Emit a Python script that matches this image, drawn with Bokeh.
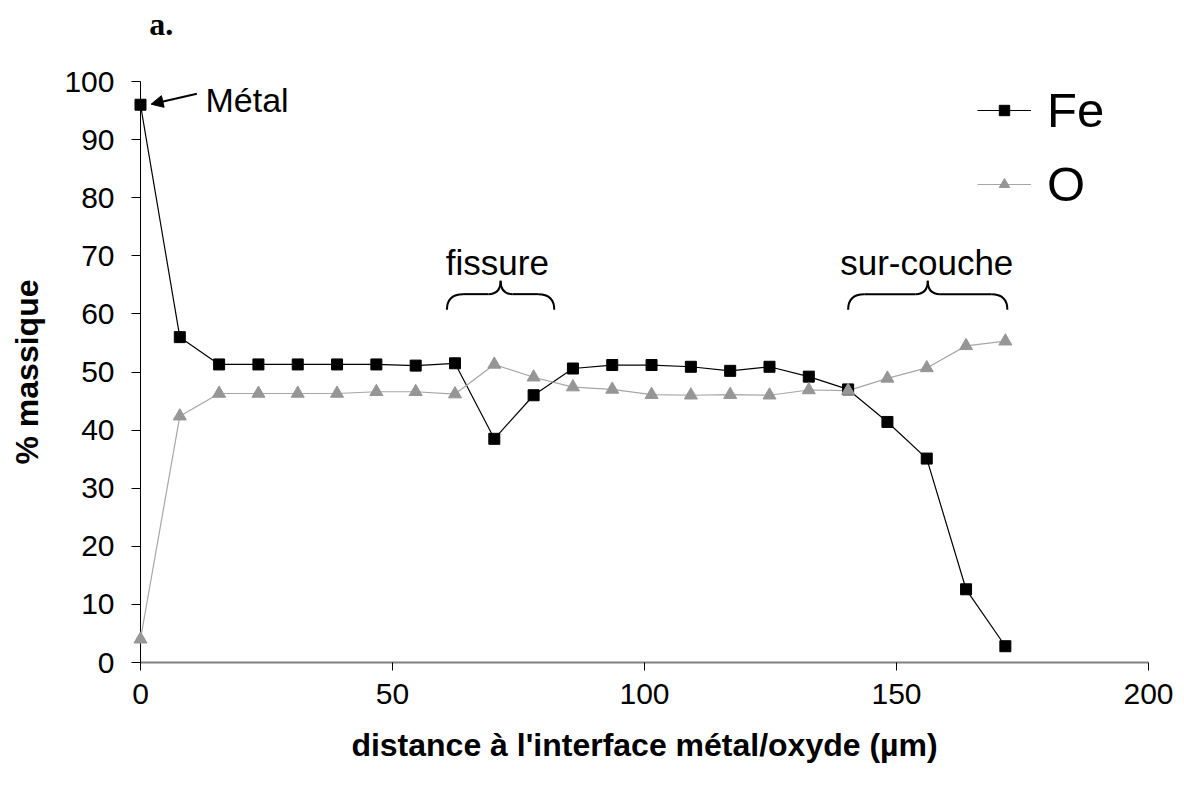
import numpy as np
from bokeh.plotting import figure
from bokeh.models import (Range1d, Legend, LegendItem, Label, Arrow, NormalHead, FixedTicker,
                          LinearAxis)
from bokeh.embed import file_html
from bokeh.resources import INLINE

# ---- data ----
distance = [0.0, 7.8, 15.6, 23.4, 31.2, 39.0, 46.8, 54.6, 62.4, 70.2, 78.0, 85.8,
            93.6, 101.4, 109.2, 117.0, 124.8, 132.6, 140.4, 148.2, 156.0, 163.8, 171.6]
fe = [96.0, 56.0, 51.3, 51.3, 51.3, 51.3, 51.3, 51.1, 51.5, 38.5, 46.0, 50.6,
      51.2, 51.2, 50.9, 50.2, 50.9, 49.2, 47.0, 41.4, 35.1, 12.6, 2.8]
oxygen = [4.0, 42.4, 46.3, 46.3, 46.3, 46.3, 46.6, 46.6, 46.2, 51.3, 49.1, 47.4,
          47.0, 46.1, 46.0, 46.1, 46.0, 46.9, 46.8, 48.9, 50.7, 54.5, 55.3]

x_ticks = [0, 50, 100, 150, 200]
y_ticks = [0, 10, 20, 30, 40, 50, 60, 70, 80, 90, 100]

# annotations: (label, x centre, baseline y), braces: (x left, x right)
zone_labels = ["fissure", "sur-couche"]
zone_label_x = [70.8, 156.0]
zone_label_y = [68.8, 68.8]
brace_left = [60.8, 140.4]
brace_right = [82.1, 172.0]
brace_end_y, brace_mid_y, brace_peak_y = 60.7, 63.4, 65.7

metal_text = "Métal"
metal_arrow = dict(x_start=11.2, y_start=97.9, x_end=2.1, y_end=96.1)

panel_tag = "a."
panel_tag_x = 4.1

FONT = "Liberation Sans"

p = figure(width=1176, height=786, output_backend="svg", toolbar_location=None,
           x_range=Range1d(0, 200), y_range=Range1d(0, 100),
           min_border_left=140, min_border_right=28, min_border_top=81, min_border_bottom=124)

p.outline_line_color = None
p.xgrid.visible = False
p.ygrid.visible = False
p.background_fill_color = "white"

# axes
p.xaxis.ticker = FixedTicker(ticks=x_ticks)
p.yaxis.ticker = FixedTicker(ticks=y_ticks)
for ax in (p.xaxis[0], p.yaxis[0]):
    ax.minor_tick_line_color = None
    ax.major_tick_in = 0
    ax.major_label_text_font = FONT
    ax.major_label_text_font_size = "30px"
    ax.major_label_text_color = "black"
    ax.axis_label_text_font = FONT
    ax.axis_label_text_font_size = "32px"
    ax.axis_label_text_font_style = "bold"
    ax.axis_label_text_color = "black"
    ax.major_tick_line_color = "black"
p.xaxis.axis_line_color = "#808080"
p.xaxis.axis_line_width = 2
p.yaxis.axis_line_color = "black"
p.xaxis.major_tick_out = 8
p.yaxis.major_tick_out = 9
p.xaxis.major_label_standoff = 13
p.yaxis.major_label_standoff = 17
p.xaxis.axis_label = "distance à l'interface métal/oxyde (µm)"
p.yaxis.axis_label = "% massique"
p.xaxis.axis_label_standoff = 20
p.yaxis.axis_label_standoff = 16

# panel tag "a." as the single label of an invisible top axis
tag_axis = LinearAxis(ticker=FixedTicker(ticks=[panel_tag_x]),
                      major_label_overrides={panel_tag_x: panel_tag},
                      axis_line_color=None, major_tick_line_color=None,
                      minor_tick_line_color=None, major_tick_out=0, major_tick_in=0,
                      major_label_standoff=40,
                      major_label_text_font="Liberation Serif",
                      major_label_text_font_style="bold",
                      major_label_text_font_size="32px",
                      major_label_text_color="black")
p.add_layout(tag_axis, "above")

# series
r_fe_line = p.line(distance, fe, line_color="black", line_width=1.2)
r_fe_pts = p.scatter(distance, fe, marker="square", size=11, fill_color="black",
                     line_color="black", level="overlay")
r_o_line = p.line(distance, oxygen, line_color="#a6a6a6", line_width=1.2)
r_o_pts = p.scatter(distance, oxygen, marker="triangle", size=13, fill_color="#969696",
                    line_color="#969696", level="overlay")

legend = Legend(items=[LegendItem(label="Fe", renderers=[r_fe_line, r_fe_pts]),
                       LegendItem(label="O", renderers=[r_o_line, r_o_pts])],
                location=(837, 450), orientation="vertical",
                label_text_font=FONT, label_text_font_size="49px", label_text_color="black",
                glyph_width=54, glyph_height=26, label_height=56, label_standoff=16,
                spacing=18, padding=0, margin=0,
                border_line_color=None, background_fill_alpha=0)
p.add_layout(legend, "center")

# braces
for xl, xr in zip(brace_left, brace_right):
    xm = (xl + xr) / 2
    re_, rm = 3.2, 2.4
    p.quadratic(x0=[xl, xr], y0=[brace_end_y] * 2, x1=[xl + re_, xr - re_], y1=[brace_mid_y] * 2,
                cx=[xl, xr], cy=[brace_mid_y] * 2, line_color="black", line_width=2)
    p.segment(x0=[xl + re_, xm + rm], y0=[brace_mid_y] * 2, x1=[xm - rm, xr - re_], y1=[brace_mid_y] * 2,
              line_color="black", line_width=2)
    p.quadratic(x0=[xm - rm, xm + rm], y0=[brace_mid_y] * 2, x1=[xm, xm], y1=[brace_peak_y] * 2,
                cx=[xm, xm], cy=[brace_mid_y] * 2, line_color="black", line_width=2)

for t, x, y in zip(zone_labels, zone_label_x, zone_label_y):
    p.add_layout(Label(x=x, y=y, text=t, text_align="center", text_baseline="alphabetic",
                       text_font=FONT, text_font_size="35px", text_color="black"))

p.add_layout(Label(x=12.9, y=96.9, text=metal_text, text_align="left", text_baseline="alphabetic",
                   text_font=FONT, text_font_size="34px", text_color="black"))
p.add_layout(Arrow(end=NormalHead(size=12, fill_color="black", line_color="black"),
                   line_width=2, line_color="black", **metal_arrow))

open("out.html", "w").write(file_html(p, INLINE))
